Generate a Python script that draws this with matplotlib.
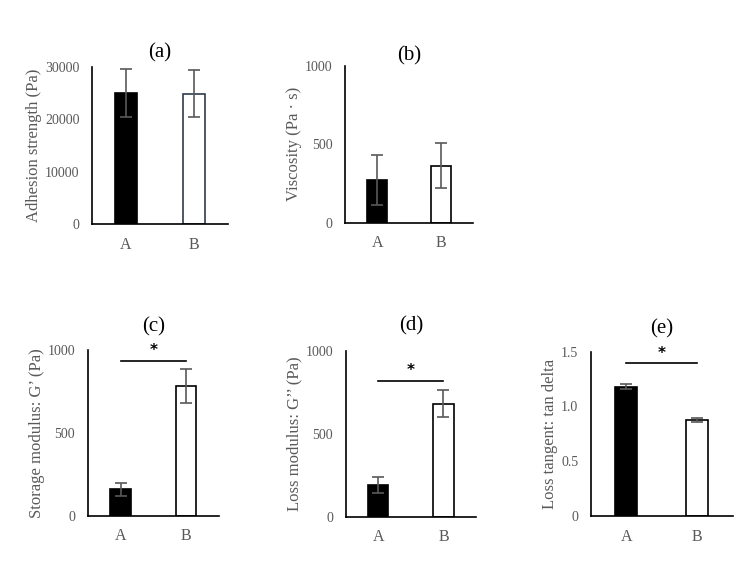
import numpy as np
import matplotlib
matplotlib.use("Agg")
import matplotlib.pyplot as plt

plt.rcParams['font.family'] = ['Liberation Serif', 'DejaVu Serif']

groups = ["A", "B"]

adhesion = [25100, 24900]
adhesion_err = [4600, 4500]

viscosity = [272, 364]
viscosity_err = [160, 143]

storage = [159, 783]
storage_err = [38, 104]

loss = [191, 682]
loss_err = [47, 81]

tan_delta = [1.18, 0.876]
tan_delta_err = [0.025, 0.02]

gray = "#595959"

panels = [
    # title, values, errors, ylabel, ylim, ticks, ticklabels, sig height, axes rect, B edge, title pad
    ("(a)", adhesion, adhesion_err, "Adhesion strength (Pa)", 30000,
     [0, 10000, 20000, 30000], None, None,
     [0.1227, 0.6063, 0.1813, 0.2759], "#2e3b4e", 7),
    ("(b)", viscosity, viscosity_err, "Viscosity (Pa \u00b7 s)", 1000,
     [0, 500, 1000], None, None,
     [0.4604, 0.6086, 0.1703, 0.2754], "black", 4),
    ("(c)", storage, storage_err, "Storage modulus: G\u2019 (Pa)", 1000,
     [0, 500, 1000], None, 935,
     [0.1169, 0.0937, 0.1751, 0.2912], "black", 13),
    ("(d)", loss, loss_err, "Loss modulus: G\u2019\u2019 (Pa)", 1000,
     [0, 500, 1000], None, 819,
     [0.4609, 0.0919, 0.1738, 0.2912], "black", 15),
    ("(e)", tan_delta, tan_delta_err, "Loss tangent: tan delta", 1.5,
     [0, 0.5, 1.0, 1.5], ["0", "0.5", "1.0", "1.5"], 1.394,
     [0.7876, 0.0931, 0.1893, 0.2888], "black", 13),
]

fig = plt.figure(figsize=(7.5, 5.69), dpi=100)

for title, vals, errs, ylabel, ymax, ticks, tlabels, sig, rect, bedge, tpad in panels:
    ax = fig.add_axes(rect)
    x = np.arange(len(groups))
    ax.bar(x, vals, width=0.31, color=["black", "white"],
           edgecolor=["black", bedge], linewidth=1.2, zorder=2)
    ax.errorbar(x, vals, yerr=errs, fmt="none", ecolor=gray,
                elinewidth=1.2, capsize=4, capthick=1.2, zorder=3)
    ax.set_xlim(-0.5, 1.5)
    ax.set_ylim(0, ymax)
    ax.set_yticks(ticks)
    if tlabels:
        ax.set_yticklabels(tlabels)
    ax.set_xticks(x)
    ax.set_xticklabels(groups)
    ax.tick_params(axis="both", length=0, colors=gray)
    ax.tick_params(axis="y", labelsize=10, pad=9)
    ax.tick_params(axis="x", labelsize=11.5, pad=9)
    for s in ["top", "right"]:
        ax.spines[s].set_visible(False)
    ax.spines["left"].set_linewidth(1.2)
    ax.spines["bottom"].set_linewidth(1.2)
    ax.set_ylabel(ylabel, fontsize=12, color=gray, labelpad=2)
    ax.set_title(title, fontsize=15, pad=tpad)
    if sig is not None:
        ax.plot([0, 1], [sig, sig], color="black", lw=1.2, clip_on=False)
        ax.annotate("*", (0.5, sig), xytext=(0, 2), textcoords="offset points",
                    ha="center", va="bottom", fontsize=11, fontweight="bold",
                    family="DejaVu Sans", annotation_clip=False)

fig.savefig("out.png", dpi=100)
